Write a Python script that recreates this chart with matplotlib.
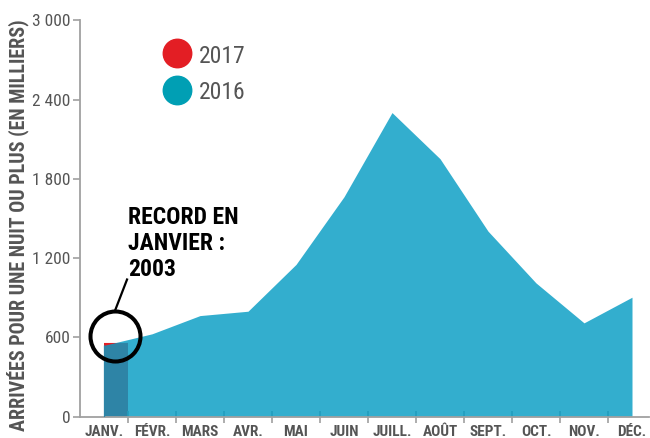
import matplotlib
matplotlib.use("Agg")
import matplotlib.pyplot as plt
import matplotlib.colors as mcolors
from matplotlib import font_manager
from matplotlib.ticker import FixedLocator, FuncFormatter

# pick a narrow font if we have one
installed = {f.name for f in font_manager.fontManager.ttflist}
narrow = [n for n in ['Liberation Sans Narrow', 'Roboto Condensed', 'Open Sans Condensed']
          if n in installed]
if narrow:
    plt.rcParams['font.family'] = [narrow[0], 'DejaVu Sans']
else:
    plt.rcParams['font.family'] = ['DejaVu Sans']
    plt.rcParams['font.stretch'] = 'condensed'

# Data (in thousands of arrivals)
months = ['JANV.', 'FÉVR.', 'MARS', 'AVR.', 'MAI', 'JUIN', 'JUILL.', 'AOÛT',
          'SEPT.', 'OCT.', 'NOV.', 'DÉC.']
arrivals_2016 = [540, 627, 765, 798, 1152, 1664, 2301, 1952, 1404, 1012, 710, 904]
arrivals_2017 = [558]  # January only
y_ticks = [0, 600, 1200, 1800, 2400, 3000]

RED = '#e31e24'
TEAL = '#009fb4'
AREA = '#069cc4'
AREA_ALPHA = 0.82
GRAY = '#555555'
AXIS_GRAY = '#a0a0a0'

# colour of the area where it lies over the red bar
r1, r2 = mcolors.to_rgb(AREA), mcolors.to_rgb(RED)
OVERLAP = tuple(AREA_ALPHA * a + (1 - AREA_ALPHA) * b for a, b in zip(r1, r2))

fig = plt.figure(figsize=(6.5, 4.38), dpi=100)
ax = fig.add_axes([80 / 650, 1 - 416.7 / 438, 568.8 / 650, 396.5 / 438])

x = list(range(len(months)))

# 2017 bar (only January), drawn under the 2016 area
bars = ax.bar(x[:len(arrivals_2017)], arrivals_2017, width=0.5, align='edge',
              color=RED, linewidth=0, zorder=1)
for b in bars:
    b.set_snap(False)
area = ax.fill_between(x, arrivals_2016, 0, color=AREA, alpha=AREA_ALPHA,
                       linewidth=0, zorder=2)
area.set_snap(False)
# cover the antialiasing seam on the bar's left edge
ax.vlines(x[0], 0, min(arrivals_2016[0], arrivals_2017[0]), color=OVERLAP,
          lw=0.9, zorder=3)

ax.set_xlim(-0.5, 11.35)
ax.set_ylim(0, 3000)

# axes styling
for side in ['top', 'right']:
    ax.spines[side].set_visible(False)
ax.spines['left'].set_color(AXIS_GRAY)
ax.spines['bottom'].set_color(AXIS_GRAY)
ax.spines['left'].set_linewidth(1.3)
ax.spines['bottom'].set_linewidth(1.3)

ax.yaxis.set_major_locator(FixedLocator(y_ticks))
ax.yaxis.set_major_formatter(FuncFormatter(lambda v, p: f"{int(v):,}".replace(',', ' ')))
ax.tick_params(axis='y', colors=AXIS_GRAY, labelcolor=GRAY, labelsize=12.5,
               length=5, width=1.2, pad=2)

ax.set_xticks(x)
ax.set_xticklabels(months, fontweight='bold', color=GRAY, fontsize=11)
ax.tick_params(axis='x', length=0, pad=6)
ax.set_xticks([i + 0.5 for i in x[:-1]], minor=True)
ax.tick_params(axis='x', which='minor', length=8, width=1.2, color=AXIS_GRAY,
               direction='inout')

fig.text(18 / 650, 1 - 225 / 438, 'ARRIVÉES POUR UNE NUIT OU PLUS (EN MILLIERS)',
         rotation=90, ha='center', va='center', fontsize=14.4,
         fontweight='bold', color=GRAY)

# legend
ax.plot([1.52], [2755], 'o', ms=20.5, color=RED, clip_on=False)
ax.plot([1.52], [2471], 'o', ms=20.5, color=TEAL, clip_on=False)
ax.text(1.98, 2673, '2017', va='baseline', ha='left', fontsize=17, color=GRAY)
ax.text(1.98, 2401, '2016', va='baseline', ha='left', fontsize=17, color=GRAY)

# annotation
ax.plot([0.22], [608], 'o', ms=36, mfc='none', mec='black', mew=2.9, zorder=5)
ax.plot([0.23, 0.48], [803, 1038], color='black', lw=1.6, zorder=5)
ax.text(0.5, 1592, 'RECORD EN\nJANVIER :\n2003', ha='left', va='top',
        fontsize=17, fontweight='bold', color='black', linespacing=1.15)

fig.savefig('out.png', dpi=100)
